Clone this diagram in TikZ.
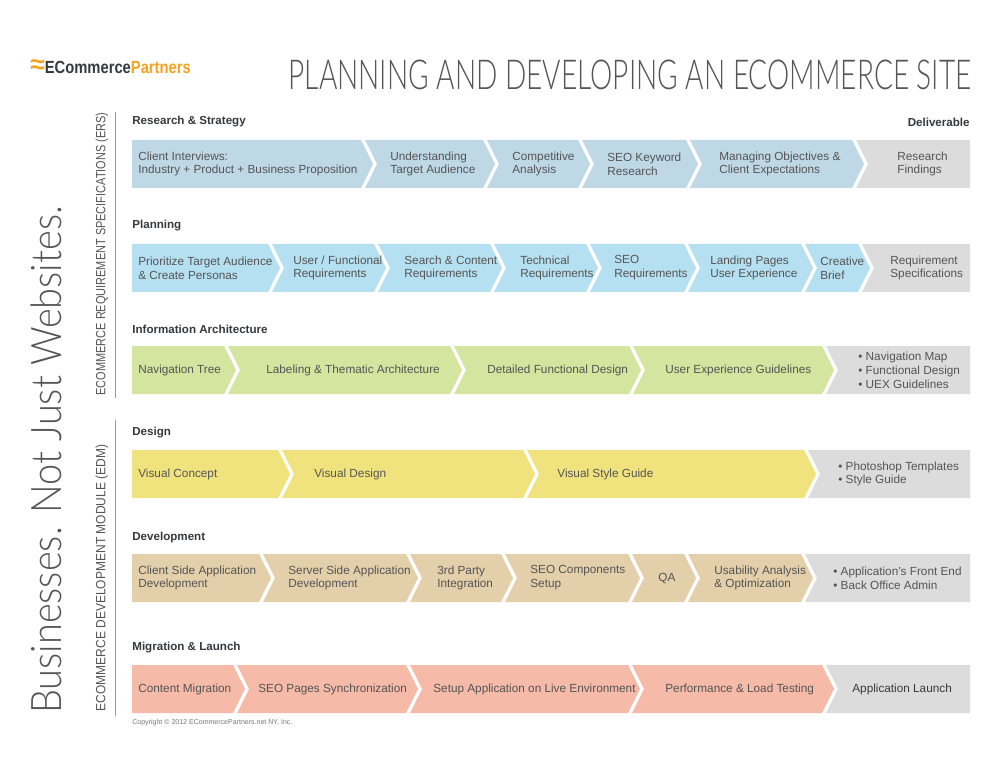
\documentclass[tikz,border=0pt]{standalone}
\usepackage{fontspec}
\setmainfont{Liberation Sans}
\newfontfamily\titlefont{Lato}[UprightFont={* Light}]
\usetikzlibrary{positioning}
\definecolor{research}{HTML}{BFD8E6}
\definecolor{planning}{HTML}{B5E0F1}
\definecolor{infoarch}{HTML}{D3E59E}
\definecolor{design}{HTML}{F0E27C}
\definecolor{develop}{HTML}{E3CFAA}
\definecolor{migrate}{HTML}{F6BAA8}
\definecolor{deliv}{HTML}{DCDCDC}
\definecolor{inktext}{HTML}{555555}
\definecolor{headtext}{HTML}{333B40}
\definecolor{logoorange}{HTML}{F6A21E}
\tikzset{
  steptext/.style={anchor=west,align=left,text=inktext,font=\fontsize{6.7}{7.9}\selectfont,inner sep=0pt},
  rowhead/.style={anchor=west,text=headtext,font=\fontsize{6.6}{8}\selectfont\bfseries,inner sep=0pt},
  sidetext/.style={rotate=90,text=inktext,inner sep=0pt}
}
% chevron with notch on the left
\newcommand{\chev}[7][25]{%
  \fill[#6] (#3,#5) -- (#4,#5) -- (#4+12,#5+24) -- (#4,#5+48) -- (#3,#5+48) -- (#3+12,#5+24) -- cycle;
  \node[steptext] (#2) at (#3+#1,#5+24) {#7};}
% first chevron, flat on the left
\newcommand{\chevfirst}[6]{%
  \fill[#5] (#2,#4) -- (#3,#4) -- (#3+12,#4+24) -- (#3,#4+48) -- (#2,#4+48) -- cycle;
  \node[steptext] (#1) at (#2+6,#4+24) {#6};}
% deliverable, flat on the right
\newcommand{\deliver}[5][30]{%
  \fill[deliv] (#3,#4) -- (970,#4) -- (970,#4+48) -- (#3,#4+48) -- (#3+12,#4+24) -- cycle;
  \node[steptext] (#2) at (#3+#1,#4+24) {#5};}

\begin{document}
\begin{tikzpicture}[x=0.02cm,y=-0.02cm]
	\useasboundingbox[fill=white] (0,0) rectangle (1000,773);

	% Header
	\node[anchor=west,inner sep=0pt,font=\fontsize{10}{12}\selectfont\bfseries] (logo) at (30,67)
	  {\textcolor{logoorange}{\fontsize{15}{12}\selectfont≈}\scalebox{0.84}[1]{\textcolor{headtext}{ECommerce}\textcolor{logoorange}{Partners}}};
	\node[anchor=east,inner sep=0pt,text=inktext,font=\titlefont\fontsize{23.5}{24}\selectfont] (title) at (972,75)
	  {\scalebox{0.68}[1]{PLANNING AND DEVELOPING AN ECOMMERCE SITE}};

	% Side labels
	\node[sidetext,font=\titlefont\fontsize{24}{26}\selectfont] (slogan) at (46,460)
	  {\scalebox{0.9}[1]{Businesses. Not Just Websites.}};
	\node[sidetext,font=\fontsize{7.6}{9}\selectfont] (ers) at (102,254)
	  {\scalebox{0.82}[1]{ECOMMERCE REQUIREMENT SPECIFICATIONS (ERS)}};
	\node[sidetext,font=\fontsize{7.6}{9}\selectfont] (edm) at (102,578)
	  {\scalebox{0.9}[1]{ECOMMERCE DEVELOPMENT MODULE (EDM)}};
	\draw[inktext!60,thin] (115,112) -- (115,398);
	\draw[inktext!60,thin] (115,420) -- (115,716);

	% Research & Strategy
	\node[rowhead] (hresearch) at (132,122) {Research \& Strategy};
	\node[rowhead,anchor=east] (hdeliv) at (970,122) {Deliverable};
	\chevfirst{r1}{132}{361}{140}{research}{Client Interviews:\\Industry + Product + Business Proposition}
	\chev{r2}{365}{483}{140}{research}{Understanding\\Target Audience}
	\chev{r3}{487}{578}{140}{research}{Competitive\\Analysis}
	\chev{r4}{582}{686}{140}{research}{SEO Keyword\\Research}
	\chev[29]{r5}{690}{852}{140}{research}{Managing Objectives \&\\Client Expectations}
	\deliver[41]{r6}{856}{140}{Research\\Findings}

	% Planning
	\node[rowhead] (hplanning) at (132,226) {Planning};
	\chevfirst{p1}{132}{268}{244}{planning}{Prioritize Target Audience\\\& Create Personas}
	\chev[21]{p2}{272}{374}{244}{planning}{User / Functional\\Requirements}
	\chev[26]{p3}{378}{490}{244}{planning}{Search \& Content\\Requirements}
	\chev[26]{p4}{494}{586}{244}{planning}{Technical\\Requirements}
	\chev[24]{p5}{590}{684}{244}{planning}{SEO\\Requirements}
	\chev[22]{p6}{688}{801}{244}{planning}{Landing Pages\\User Experience}
	\chev[15]{p7}{805}{858}{244}{planning}{Creative\\Brief}
	\deliver[28]{p8}{862}{244}{Requirement\\Specifications}

	% Information Architecture
	\node[rowhead] (hinfo) at (132,329) {Information Architecture};
	\chevfirst{i1}{132}{224}{346}{infoarch}{Navigation Tree}
	\chev[38]{i2}{228}{450}{346}{infoarch}{Labeling \& Thematic Architecture}
	\chev[33]{i3}{454}{629}{346}{infoarch}{Detailed Functional Design}
	\chev[32]{i4}{633}{822}{346}{infoarch}{User Experience Guidelines}
	\deliver[32]{i5}{826}{346}{• Navigation Map\\• Functional Design\\• UEX Guidelines}

	% Design
	\node[rowhead] (hdesign) at (132,433) {Design};
	\chevfirst{d1}{132}{278}{450}{design}{Visual Concept}
	\chev[32]{d2}{282}{523}{450}{design}{Visual Design}
	\chev[30]{d3}{527}{804}{450}{design}{Visual Style Guide}
	\deliver[30]{d4}{808}{450}{• Photoshop Templates\\• Style Guide}

	% Development
	\node[rowhead] (hdevelop) at (132,537) {Development};
	\chevfirst{v1}{132}{259}{554}{develop}{Client Side Application\\Development}
	\chev{v2}{263}{406}{554}{develop}{Server Side Application\\Development}
	\chev[27]{v3}{410}{501}{554}{develop}{3rd Party\\Integration}
	\chev{v4}{505}{628}{554}{develop}{SEO Components\\Setup}
	\chev[26]{v5}{632}{684}{554}{develop}{QA}
	\chev[26]{v6}{688}{801}{554}{develop}{Usability Analysis\\\& Optimization}
	\deliver[28]{v7}{805}{554}{• Application’s Front End\\• Back Office Admin}

	% Migration & Launch
	\node[rowhead] (hmigrate) at (132,648) {Migration \& Launch};
	\chevfirst{m1}{132}{233}{665}{migrate}{Content Migration}
	\chev[21]{m2}{237}{406}{665}{migrate}{SEO Pages Synchronization}
	\chev[23]{m3}{410}{628}{665}{migrate}{Setup Application on Live Environment}
	\chev[33]{m4}{632}{822}{665}{migrate}{Performance \& Load Testing}
	\deliver[26]{m5}{826}{665}{\textcolor{headtext}{Application Launch}}

	\node[anchor=west,inner sep=0pt,text=inktext!80,font=\fontsize{4}{5}\selectfont] (copy) at (132,723)
	  {Copyright © 2012 ECommercePartners.net NY, Inc.};
\end{tikzpicture}
\end{document}
